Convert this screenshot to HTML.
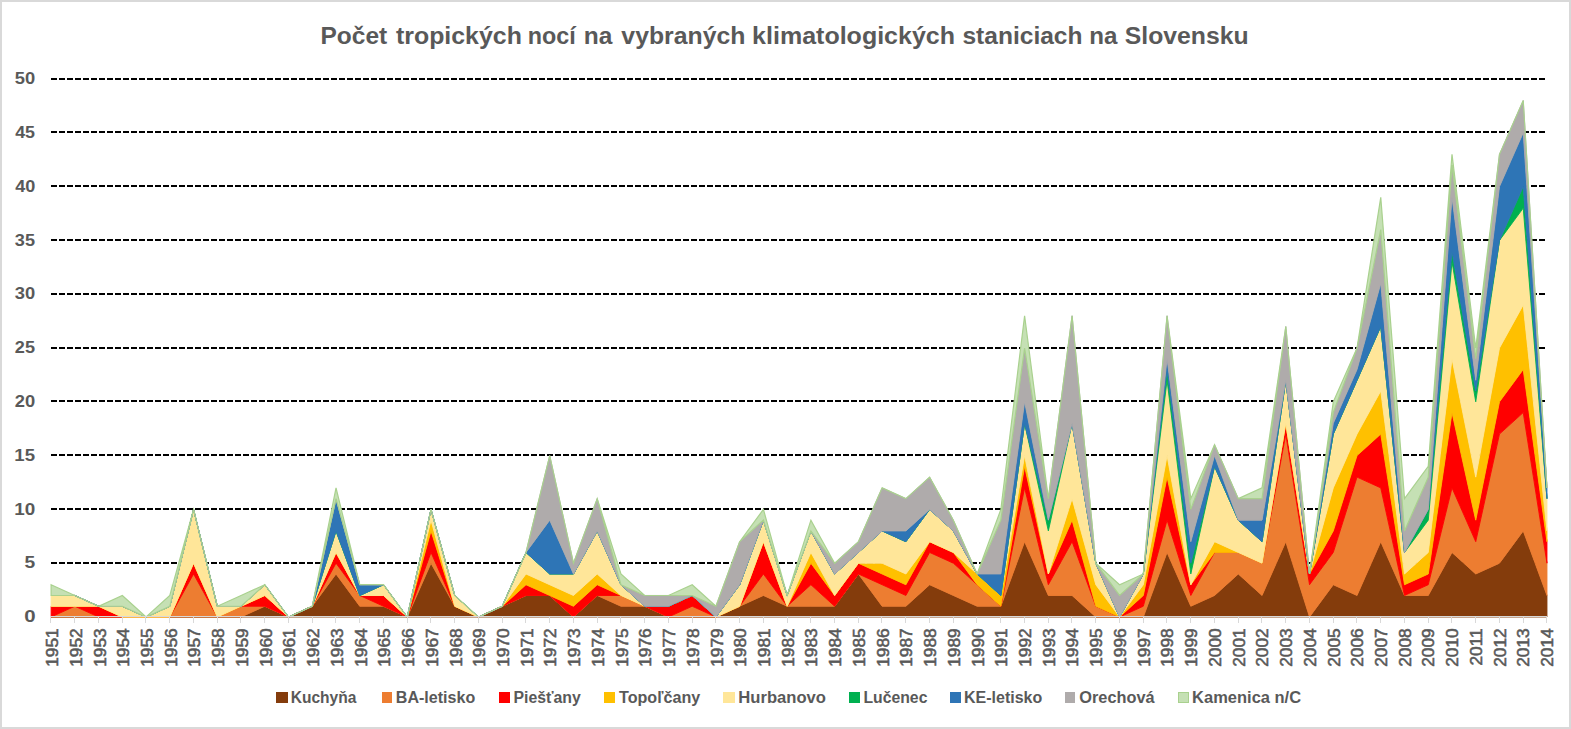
<!DOCTYPE html>
<html lang="sk"><head><meta charset="utf-8"><title>Počet tropických nocí</title>
<style>
html,body{margin:0;padding:0;background:#fff;}
body{width:1571px;height:729px;overflow:hidden;}
svg{display:block;}
text{font-family:"Liberation Sans",sans-serif;font-weight:bold;fill:#595959;}
.xl text{font-weight:normal;stroke:#595959;stroke-width:0.55px;}
</style></head><body>
<svg width="1571" height="729" viewBox="0 0 1571 729">
<rect x="0" y="0" width="1571" height="729" fill="#ffffff"/>
<rect x="1" y="1" width="1569" height="727" fill="none" stroke="#D9D9D9" stroke-width="2"/>

<g stroke="#000" stroke-width="2" stroke-dasharray="6 2" fill="none">
<line x1="51" y1="563" x2="1547" y2="563"/>
<line x1="51" y1="509" x2="1547" y2="509"/>
<line x1="51" y1="455" x2="1547" y2="455"/>
<line x1="51" y1="401" x2="1547" y2="401"/>
<line x1="51" y1="348" x2="1547" y2="348"/>
<line x1="51" y1="294" x2="1547" y2="294"/>
<line x1="51" y1="240" x2="1547" y2="240"/>
<line x1="51" y1="186" x2="1547" y2="186"/>
<line x1="51" y1="132" x2="1547" y2="132"/>
<line x1="51" y1="79" x2="1547" y2="79"/>
</g>
<g stroke-linejoin="miter">
<polygon fill="#843C0C" stroke="#843C0C" stroke-width="0.9" points="51.10,617.00 74.84,617.00 98.59,617.00 122.33,617.00 146.08,617.00 169.82,617.00 193.56,617.00 217.31,617.00 241.05,617.00 264.80,606.24 288.54,617.00 312.28,606.24 336.03,573.96 359.77,606.24 383.52,606.24 407.26,617.00 431.00,563.20 454.75,606.24 478.49,617.00 502.24,606.24 525.98,595.48 549.72,595.48 573.47,617.00 597.21,595.48 620.96,606.24 644.70,606.24 668.44,617.00 692.19,617.00 715.93,617.00 739.68,606.24 763.42,595.48 787.16,606.24 810.91,606.24 834.65,606.24 858.40,573.96 882.14,606.24 905.88,606.24 929.63,584.72 953.37,595.48 977.12,606.24 1000.86,606.24 1024.60,541.68 1048.35,595.48 1072.09,595.48 1095.84,617.00 1119.58,617.00 1143.32,617.00 1167.07,552.44 1190.81,606.24 1214.56,595.48 1238.30,573.96 1262.04,595.48 1285.79,541.68 1309.53,617.00 1333.28,584.72 1357.02,595.48 1380.76,541.68 1404.51,595.48 1428.25,595.48 1452.00,552.44 1475.74,573.96 1499.48,563.20 1523.23,530.92 1546.97,595.48 1546.97,617.00 1523.23,617.00 1499.48,617.00 1475.74,617.00 1452.00,617.00 1428.25,617.00 1404.51,617.00 1380.76,617.00 1357.02,617.00 1333.28,617.00 1309.53,617.00 1285.79,617.00 1262.04,617.00 1238.30,617.00 1214.56,617.00 1190.81,617.00 1167.07,617.00 1143.32,617.00 1119.58,617.00 1095.84,617.00 1072.09,617.00 1048.35,617.00 1024.60,617.00 1000.86,617.00 977.12,617.00 953.37,617.00 929.63,617.00 905.88,617.00 882.14,617.00 858.40,617.00 834.65,617.00 810.91,617.00 787.16,617.00 763.42,617.00 739.68,617.00 715.93,617.00 692.19,617.00 668.44,617.00 644.70,617.00 620.96,617.00 597.21,617.00 573.47,617.00 549.72,617.00 525.98,617.00 502.24,617.00 478.49,617.00 454.75,617.00 431.00,617.00 407.26,617.00 383.52,617.00 359.77,617.00 336.03,617.00 312.28,617.00 288.54,617.00 264.80,617.00 241.05,617.00 217.31,617.00 193.56,617.00 169.82,617.00 146.08,617.00 122.33,617.00 98.59,617.00 74.84,617.00 51.10,617.00"/>
<polygon fill="#ED7D31" stroke="#ED7D31" stroke-width="0.9" points="51.10,617.00 74.84,606.24 98.59,617.00 122.33,617.00 146.08,617.00 169.82,617.00 193.56,573.96 217.31,617.00 241.05,606.24 264.80,606.24 288.54,617.00 312.28,606.24 336.03,563.20 359.77,595.48 383.52,606.24 407.26,617.00 431.00,552.44 454.75,606.24 478.49,617.00 502.24,606.24 525.98,595.48 549.72,595.48 573.47,617.00 597.21,595.48 620.96,595.48 644.70,606.24 668.44,617.00 692.19,606.24 715.93,617.00 739.68,606.24 763.42,573.96 787.16,606.24 810.91,584.72 834.65,606.24 858.40,573.96 882.14,584.72 905.88,595.48 929.63,552.44 953.37,563.20 977.12,584.72 1000.86,606.24 1024.60,487.88 1048.35,584.72 1072.09,541.68 1095.84,606.24 1119.58,617.00 1143.32,606.24 1167.07,520.16 1190.81,595.48 1214.56,552.44 1238.30,552.44 1262.04,563.20 1285.79,434.08 1309.53,584.72 1333.28,552.44 1357.02,477.12 1380.76,487.88 1404.51,595.48 1428.25,584.72 1452.00,487.88 1475.74,541.68 1499.48,434.08 1523.23,412.56 1546.97,563.20 1546.97,595.48 1523.23,530.92 1499.48,563.20 1475.74,573.96 1452.00,552.44 1428.25,595.48 1404.51,595.48 1380.76,541.68 1357.02,595.48 1333.28,584.72 1309.53,617.00 1285.79,541.68 1262.04,595.48 1238.30,573.96 1214.56,595.48 1190.81,606.24 1167.07,552.44 1143.32,617.00 1119.58,617.00 1095.84,617.00 1072.09,595.48 1048.35,595.48 1024.60,541.68 1000.86,606.24 977.12,606.24 953.37,595.48 929.63,584.72 905.88,606.24 882.14,606.24 858.40,573.96 834.65,606.24 810.91,606.24 787.16,606.24 763.42,595.48 739.68,606.24 715.93,617.00 692.19,617.00 668.44,617.00 644.70,606.24 620.96,606.24 597.21,595.48 573.47,617.00 549.72,595.48 525.98,595.48 502.24,606.24 478.49,617.00 454.75,606.24 431.00,563.20 407.26,617.00 383.52,606.24 359.77,606.24 336.03,573.96 312.28,606.24 288.54,617.00 264.80,606.24 241.05,617.00 217.31,617.00 193.56,617.00 169.82,617.00 146.08,617.00 122.33,617.00 98.59,617.00 74.84,617.00 51.10,617.00"/>
<polygon fill="#FF0000" stroke="#FF0000" stroke-width="0.9" points="51.10,606.24 74.84,606.24 98.59,606.24 122.33,617.00 146.08,617.00 169.82,617.00 193.56,563.20 217.31,617.00 241.05,606.24 264.80,595.48 288.54,617.00 312.28,606.24 336.03,552.44 359.77,595.48 383.52,595.48 407.26,617.00 431.00,530.92 454.75,606.24 478.49,617.00 502.24,606.24 525.98,584.72 549.72,595.48 573.47,606.24 597.21,584.72 620.96,595.48 644.70,606.24 668.44,606.24 692.19,595.48 715.93,617.00 739.68,606.24 763.42,541.68 787.16,606.24 810.91,563.20 834.65,595.48 858.40,563.20 882.14,573.96 905.88,584.72 929.63,541.68 953.37,552.44 977.12,584.72 1000.86,606.24 1024.60,466.36 1048.35,573.96 1072.09,520.16 1095.84,606.24 1119.58,617.00 1143.32,595.48 1167.07,477.12 1190.81,584.72 1214.56,552.44 1238.30,552.44 1262.04,563.20 1285.79,423.32 1309.53,573.96 1333.28,530.92 1357.02,455.60 1380.76,434.08 1404.51,584.72 1428.25,573.96 1452.00,412.56 1475.74,520.16 1499.48,401.80 1523.23,369.52 1546.97,541.68 1546.97,563.20 1523.23,412.56 1499.48,434.08 1475.74,541.68 1452.00,487.88 1428.25,584.72 1404.51,595.48 1380.76,487.88 1357.02,477.12 1333.28,552.44 1309.53,584.72 1285.79,434.08 1262.04,563.20 1238.30,552.44 1214.56,552.44 1190.81,595.48 1167.07,520.16 1143.32,606.24 1119.58,617.00 1095.84,606.24 1072.09,541.68 1048.35,584.72 1024.60,487.88 1000.86,606.24 977.12,584.72 953.37,563.20 929.63,552.44 905.88,595.48 882.14,584.72 858.40,573.96 834.65,606.24 810.91,584.72 787.16,606.24 763.42,573.96 739.68,606.24 715.93,617.00 692.19,606.24 668.44,617.00 644.70,606.24 620.96,595.48 597.21,595.48 573.47,617.00 549.72,595.48 525.98,595.48 502.24,606.24 478.49,617.00 454.75,606.24 431.00,552.44 407.26,617.00 383.52,606.24 359.77,595.48 336.03,563.20 312.28,606.24 288.54,617.00 264.80,606.24 241.05,606.24 217.31,617.00 193.56,573.96 169.82,617.00 146.08,617.00 122.33,617.00 98.59,617.00 74.84,606.24 51.10,617.00"/>
<polygon fill="#FFC000" stroke="#FFC000" stroke-width="0.9" points="51.10,606.24 74.84,606.24 98.59,606.24 122.33,617.00 146.08,617.00 169.82,617.00 193.56,563.20 217.31,617.00 241.05,606.24 264.80,595.48 288.54,617.00 312.28,606.24 336.03,552.44 359.77,595.48 383.52,595.48 407.26,617.00 431.00,520.16 454.75,606.24 478.49,617.00 502.24,606.24 525.98,573.96 549.72,584.72 573.47,595.48 597.21,573.96 620.96,595.48 644.70,606.24 668.44,606.24 692.19,595.48 715.93,617.00 739.68,606.24 763.42,541.68 787.16,606.24 810.91,552.44 834.65,595.48 858.40,563.20 882.14,563.20 905.88,573.96 929.63,541.68 953.37,552.44 977.12,573.96 1000.86,595.48 1024.60,455.60 1048.35,573.96 1072.09,498.64 1095.84,584.72 1119.58,617.00 1143.32,584.72 1167.07,455.60 1190.81,584.72 1214.56,541.68 1238.30,552.44 1262.04,563.20 1285.79,423.32 1309.53,573.96 1333.28,487.88 1357.02,434.08 1380.76,391.04 1404.51,573.96 1428.25,552.44 1452.00,358.76 1475.74,477.12 1499.48,348.00 1523.23,304.96 1546.97,530.92 1546.97,541.68 1523.23,369.52 1499.48,401.80 1475.74,520.16 1452.00,412.56 1428.25,573.96 1404.51,584.72 1380.76,434.08 1357.02,455.60 1333.28,530.92 1309.53,573.96 1285.79,423.32 1262.04,563.20 1238.30,552.44 1214.56,552.44 1190.81,584.72 1167.07,477.12 1143.32,595.48 1119.58,617.00 1095.84,606.24 1072.09,520.16 1048.35,573.96 1024.60,466.36 1000.86,606.24 977.12,584.72 953.37,552.44 929.63,541.68 905.88,584.72 882.14,573.96 858.40,563.20 834.65,595.48 810.91,563.20 787.16,606.24 763.42,541.68 739.68,606.24 715.93,617.00 692.19,595.48 668.44,606.24 644.70,606.24 620.96,595.48 597.21,584.72 573.47,606.24 549.72,595.48 525.98,584.72 502.24,606.24 478.49,617.00 454.75,606.24 431.00,530.92 407.26,617.00 383.52,595.48 359.77,595.48 336.03,552.44 312.28,606.24 288.54,617.00 264.80,595.48 241.05,606.24 217.31,617.00 193.56,563.20 169.82,617.00 146.08,617.00 122.33,617.00 98.59,606.24 74.84,606.24 51.10,606.24"/>
<polygon fill="#FFE699" stroke="#FFE699" stroke-width="0.9" points="51.10,595.48 74.84,595.48 98.59,606.24 122.33,606.24 146.08,617.00 169.82,606.24 193.56,509.40 217.31,606.24 241.05,606.24 264.80,584.72 288.54,617.00 312.28,606.24 336.03,530.92 359.77,595.48 383.52,584.72 407.26,617.00 431.00,509.40 454.75,595.48 478.49,617.00 502.24,606.24 525.98,552.44 549.72,573.96 573.47,573.96 597.21,530.92 620.96,584.72 644.70,606.24 668.44,606.24 692.19,595.48 715.93,617.00 739.68,584.72 763.42,520.16 787.16,595.48 810.91,530.92 834.65,573.96 858.40,552.44 882.14,530.92 905.88,541.68 929.63,509.40 953.37,530.92 977.12,573.96 1000.86,595.48 1024.60,423.32 1048.35,530.92 1072.09,423.32 1095.84,563.20 1119.58,617.00 1143.32,573.96 1167.07,380.28 1190.81,573.96 1214.56,466.36 1238.30,520.16 1262.04,541.68 1285.79,380.28 1309.53,573.96 1333.28,434.08 1357.02,380.28 1380.76,326.48 1404.51,552.44 1428.25,520.16 1452.00,261.92 1475.74,401.80 1499.48,240.40 1523.23,208.12 1546.97,498.64 1546.97,530.92 1523.23,304.96 1499.48,348.00 1475.74,477.12 1452.00,358.76 1428.25,552.44 1404.51,573.96 1380.76,391.04 1357.02,434.08 1333.28,487.88 1309.53,573.96 1285.79,423.32 1262.04,563.20 1238.30,552.44 1214.56,541.68 1190.81,584.72 1167.07,455.60 1143.32,584.72 1119.58,617.00 1095.84,584.72 1072.09,498.64 1048.35,573.96 1024.60,455.60 1000.86,595.48 977.12,573.96 953.37,552.44 929.63,541.68 905.88,573.96 882.14,563.20 858.40,563.20 834.65,595.48 810.91,552.44 787.16,606.24 763.42,541.68 739.68,606.24 715.93,617.00 692.19,595.48 668.44,606.24 644.70,606.24 620.96,595.48 597.21,573.96 573.47,595.48 549.72,584.72 525.98,573.96 502.24,606.24 478.49,617.00 454.75,606.24 431.00,520.16 407.26,617.00 383.52,595.48 359.77,595.48 336.03,552.44 312.28,606.24 288.54,617.00 264.80,595.48 241.05,606.24 217.31,617.00 193.56,563.20 169.82,617.00 146.08,617.00 122.33,617.00 98.59,606.24 74.84,606.24 51.10,606.24"/>
<polygon fill="#00B050" stroke="#00B050" stroke-width="0.9" points="51.10,595.48 74.84,595.48 98.59,606.24 122.33,606.24 146.08,617.00 169.82,606.24 193.56,509.40 217.31,606.24 241.05,606.24 264.80,584.72 288.54,617.00 312.28,606.24 336.03,530.92 359.77,595.48 383.52,584.72 407.26,617.00 431.00,509.40 454.75,595.48 478.49,617.00 502.24,606.24 525.98,552.44 549.72,573.96 573.47,573.96 597.21,530.92 620.96,584.72 644.70,606.24 668.44,606.24 692.19,595.48 715.93,617.00 739.68,584.72 763.42,520.16 787.16,595.48 810.91,530.92 834.65,573.96 858.40,552.44 882.14,530.92 905.88,541.68 929.63,509.40 953.37,530.92 977.12,573.96 1000.86,595.48 1024.60,423.32 1048.35,520.16 1072.09,423.32 1095.84,563.20 1119.58,617.00 1143.32,573.96 1167.07,369.52 1190.81,563.20 1214.56,466.36 1238.30,520.16 1262.04,541.68 1285.79,380.28 1309.53,573.96 1333.28,434.08 1357.02,380.28 1380.76,326.48 1404.51,552.44 1428.25,509.40 1452.00,251.16 1475.74,391.04 1499.48,240.40 1523.23,186.60 1546.97,498.64 1546.97,498.64 1523.23,208.12 1499.48,240.40 1475.74,401.80 1452.00,261.92 1428.25,520.16 1404.51,552.44 1380.76,326.48 1357.02,380.28 1333.28,434.08 1309.53,573.96 1285.79,380.28 1262.04,541.68 1238.30,520.16 1214.56,466.36 1190.81,573.96 1167.07,380.28 1143.32,573.96 1119.58,617.00 1095.84,563.20 1072.09,423.32 1048.35,530.92 1024.60,423.32 1000.86,595.48 977.12,573.96 953.37,530.92 929.63,509.40 905.88,541.68 882.14,530.92 858.40,552.44 834.65,573.96 810.91,530.92 787.16,595.48 763.42,520.16 739.68,584.72 715.93,617.00 692.19,595.48 668.44,606.24 644.70,606.24 620.96,584.72 597.21,530.92 573.47,573.96 549.72,573.96 525.98,552.44 502.24,606.24 478.49,617.00 454.75,595.48 431.00,509.40 407.26,617.00 383.52,584.72 359.77,595.48 336.03,530.92 312.28,606.24 288.54,617.00 264.80,584.72 241.05,606.24 217.31,606.24 193.56,509.40 169.82,606.24 146.08,617.00 122.33,606.24 98.59,606.24 74.84,595.48 51.10,595.48"/>
<polygon fill="#2E75B6" stroke="#2E75B6" stroke-width="0.9" points="51.10,595.48 74.84,595.48 98.59,606.24 122.33,606.24 146.08,617.00 169.82,606.24 193.56,509.40 217.31,606.24 241.05,606.24 264.80,584.72 288.54,617.00 312.28,606.24 336.03,498.64 359.77,584.72 383.52,584.72 407.26,617.00 431.00,509.40 454.75,595.48 478.49,617.00 502.24,606.24 525.98,552.44 549.72,520.16 573.47,573.96 597.21,530.92 620.96,584.72 644.70,606.24 668.44,606.24 692.19,595.48 715.93,617.00 739.68,584.72 763.42,520.16 787.16,595.48 810.91,530.92 834.65,573.96 858.40,552.44 882.14,530.92 905.88,530.92 929.63,509.40 953.37,530.92 977.12,573.96 1000.86,573.96 1024.60,401.80 1048.35,520.16 1072.09,423.32 1095.84,563.20 1119.58,617.00 1143.32,573.96 1167.07,358.76 1190.81,541.68 1214.56,455.60 1238.30,520.16 1262.04,520.16 1285.79,380.28 1309.53,573.96 1333.28,423.32 1357.02,369.52 1380.76,283.44 1404.51,552.44 1428.25,509.40 1452.00,197.36 1475.74,380.28 1499.48,186.60 1523.23,132.80 1546.97,487.88 1546.97,498.64 1523.23,186.60 1499.48,240.40 1475.74,391.04 1452.00,251.16 1428.25,509.40 1404.51,552.44 1380.76,326.48 1357.02,380.28 1333.28,434.08 1309.53,573.96 1285.79,380.28 1262.04,541.68 1238.30,520.16 1214.56,466.36 1190.81,563.20 1167.07,369.52 1143.32,573.96 1119.58,617.00 1095.84,563.20 1072.09,423.32 1048.35,520.16 1024.60,423.32 1000.86,595.48 977.12,573.96 953.37,530.92 929.63,509.40 905.88,541.68 882.14,530.92 858.40,552.44 834.65,573.96 810.91,530.92 787.16,595.48 763.42,520.16 739.68,584.72 715.93,617.00 692.19,595.48 668.44,606.24 644.70,606.24 620.96,584.72 597.21,530.92 573.47,573.96 549.72,573.96 525.98,552.44 502.24,606.24 478.49,617.00 454.75,595.48 431.00,509.40 407.26,617.00 383.52,584.72 359.77,595.48 336.03,530.92 312.28,606.24 288.54,617.00 264.80,584.72 241.05,606.24 217.31,606.24 193.56,509.40 169.82,606.24 146.08,617.00 122.33,606.24 98.59,606.24 74.84,595.48 51.10,595.48"/>
<polygon fill="#AFABAB" stroke="#AFABAB" stroke-width="0.9" points="51.10,595.48 74.84,595.48 98.59,606.24 122.33,606.24 146.08,617.00 169.82,606.24 193.56,509.40 217.31,606.24 241.05,606.24 264.80,584.72 288.54,617.00 312.28,606.24 336.03,498.64 359.77,584.72 383.52,584.72 407.26,617.00 431.00,509.40 454.75,595.48 478.49,617.00 502.24,606.24 525.98,552.44 549.72,455.60 573.47,563.20 597.21,498.64 620.96,584.72 644.70,595.48 668.44,595.48 692.19,595.48 715.93,606.24 739.68,541.68 763.42,520.16 787.16,595.48 810.91,530.92 834.65,563.20 858.40,541.68 882.14,487.88 905.88,498.64 929.63,477.12 953.37,520.16 977.12,573.96 1000.86,520.16 1024.60,348.00 1048.35,498.64 1072.09,315.72 1095.84,563.20 1119.58,595.48 1143.32,573.96 1167.07,315.72 1190.81,509.40 1214.56,444.84 1238.30,498.64 1262.04,498.64 1285.79,326.48 1309.53,573.96 1333.28,412.56 1357.02,348.00 1380.76,229.64 1404.51,530.92 1428.25,477.12 1452.00,165.08 1475.74,358.76 1499.48,154.32 1523.23,100.52 1546.97,487.88 1546.97,487.88 1523.23,132.80 1499.48,186.60 1475.74,380.28 1452.00,197.36 1428.25,509.40 1404.51,552.44 1380.76,283.44 1357.02,369.52 1333.28,423.32 1309.53,573.96 1285.79,380.28 1262.04,520.16 1238.30,520.16 1214.56,455.60 1190.81,541.68 1167.07,358.76 1143.32,573.96 1119.58,617.00 1095.84,563.20 1072.09,423.32 1048.35,520.16 1024.60,401.80 1000.86,573.96 977.12,573.96 953.37,530.92 929.63,509.40 905.88,530.92 882.14,530.92 858.40,552.44 834.65,573.96 810.91,530.92 787.16,595.48 763.42,520.16 739.68,584.72 715.93,617.00 692.19,595.48 668.44,606.24 644.70,606.24 620.96,584.72 597.21,530.92 573.47,573.96 549.72,520.16 525.98,552.44 502.24,606.24 478.49,617.00 454.75,595.48 431.00,509.40 407.26,617.00 383.52,584.72 359.77,584.72 336.03,498.64 312.28,606.24 288.54,617.00 264.80,584.72 241.05,606.24 217.31,606.24 193.56,509.40 169.82,606.24 146.08,617.00 122.33,606.24 98.59,606.24 74.84,595.48 51.10,595.48"/>
<polygon fill="#C5E0B4" stroke="#A9D18E" stroke-width="1.2" points="51.10,584.72 74.84,595.48 98.59,606.24 122.33,595.48 146.08,617.00 169.82,595.48 193.56,509.40 217.31,606.24 241.05,595.48 264.80,584.72 288.54,617.00 312.28,606.24 336.03,487.88 359.77,584.72 383.52,584.72 407.26,617.00 431.00,509.40 454.75,595.48 478.49,617.00 502.24,606.24 525.98,552.44 549.72,455.60 573.47,563.20 597.21,498.64 620.96,573.96 644.70,595.48 668.44,595.48 692.19,584.72 715.93,606.24 739.68,541.68 763.42,509.40 787.16,595.48 810.91,520.16 834.65,563.20 858.40,541.68 882.14,487.88 905.88,498.64 929.63,477.12 953.37,520.16 977.12,573.96 1000.86,509.40 1024.60,315.72 1048.35,498.64 1072.09,315.72 1095.84,563.20 1119.58,584.72 1143.32,573.96 1167.07,315.72 1190.81,498.64 1214.56,444.84 1238.30,498.64 1262.04,487.88 1285.79,326.48 1309.53,573.96 1333.28,401.80 1357.02,348.00 1380.76,197.36 1404.51,498.64 1428.25,466.36 1452.00,154.32 1475.74,348.00 1499.48,154.32 1523.23,100.52 1546.97,487.88 1546.97,487.88 1523.23,100.52 1499.48,154.32 1475.74,358.76 1452.00,165.08 1428.25,477.12 1404.51,530.92 1380.76,229.64 1357.02,348.00 1333.28,412.56 1309.53,573.96 1285.79,326.48 1262.04,498.64 1238.30,498.64 1214.56,444.84 1190.81,509.40 1167.07,315.72 1143.32,573.96 1119.58,595.48 1095.84,563.20 1072.09,315.72 1048.35,498.64 1024.60,348.00 1000.86,520.16 977.12,573.96 953.37,520.16 929.63,477.12 905.88,498.64 882.14,487.88 858.40,541.68 834.65,563.20 810.91,530.92 787.16,595.48 763.42,520.16 739.68,541.68 715.93,606.24 692.19,595.48 668.44,595.48 644.70,595.48 620.96,584.72 597.21,498.64 573.47,563.20 549.72,455.60 525.98,552.44 502.24,606.24 478.49,617.00 454.75,595.48 431.00,509.40 407.26,617.00 383.52,584.72 359.77,584.72 336.03,498.64 312.28,606.24 288.54,617.00 264.80,584.72 241.05,606.24 217.31,606.24 193.56,509.40 169.82,606.24 146.08,617.00 122.33,606.24 98.59,606.24 74.84,595.48 51.10,595.48"/>
</g>
<g stroke="#D9D9D9" stroke-width="1" fill="none">
<line x1="50" y1="616.5" x2="1547" y2="616.5"/>
<line x1="50.5" y1="616" x2="50.5" y2="623"/>
<line x1="74.5" y1="616" x2="74.5" y2="623"/>
<line x1="98.5" y1="616" x2="98.5" y2="623"/>
<line x1="122.5" y1="616" x2="122.5" y2="623"/>
<line x1="145.5" y1="616" x2="145.5" y2="623"/>
<line x1="169.5" y1="616" x2="169.5" y2="623"/>
<line x1="193.5" y1="616" x2="193.5" y2="623"/>
<line x1="217.5" y1="616" x2="217.5" y2="623"/>
<line x1="240.5" y1="616" x2="240.5" y2="623"/>
<line x1="264.5" y1="616" x2="264.5" y2="623"/>
<line x1="288.5" y1="616" x2="288.5" y2="623"/>
<line x1="312.5" y1="616" x2="312.5" y2="623"/>
<line x1="335.5" y1="616" x2="335.5" y2="623"/>
<line x1="359.5" y1="616" x2="359.5" y2="623"/>
<line x1="383.5" y1="616" x2="383.5" y2="623"/>
<line x1="407.5" y1="616" x2="407.5" y2="623"/>
<line x1="430.5" y1="616" x2="430.5" y2="623"/>
<line x1="454.5" y1="616" x2="454.5" y2="623"/>
<line x1="478.5" y1="616" x2="478.5" y2="623"/>
<line x1="502.5" y1="616" x2="502.5" y2="623"/>
<line x1="525.5" y1="616" x2="525.5" y2="623"/>
<line x1="549.5" y1="616" x2="549.5" y2="623"/>
<line x1="573.5" y1="616" x2="573.5" y2="623"/>
<line x1="597.5" y1="616" x2="597.5" y2="623"/>
<line x1="620.5" y1="616" x2="620.5" y2="623"/>
<line x1="644.5" y1="616" x2="644.5" y2="623"/>
<line x1="668.5" y1="616" x2="668.5" y2="623"/>
<line x1="692.5" y1="616" x2="692.5" y2="623"/>
<line x1="715.5" y1="616" x2="715.5" y2="623"/>
<line x1="739.5" y1="616" x2="739.5" y2="623"/>
<line x1="763.5" y1="616" x2="763.5" y2="623"/>
<line x1="787.5" y1="616" x2="787.5" y2="623"/>
<line x1="810.5" y1="616" x2="810.5" y2="623"/>
<line x1="834.5" y1="616" x2="834.5" y2="623"/>
<line x1="858.5" y1="616" x2="858.5" y2="623"/>
<line x1="881.5" y1="616" x2="881.5" y2="623"/>
<line x1="905.5" y1="616" x2="905.5" y2="623"/>
<line x1="929.5" y1="616" x2="929.5" y2="623"/>
<line x1="953.5" y1="616" x2="953.5" y2="623"/>
<line x1="976.5" y1="616" x2="976.5" y2="623"/>
<line x1="1000.5" y1="616" x2="1000.5" y2="623"/>
<line x1="1024.5" y1="616" x2="1024.5" y2="623"/>
<line x1="1048.5" y1="616" x2="1048.5" y2="623"/>
<line x1="1071.5" y1="616" x2="1071.5" y2="623"/>
<line x1="1095.5" y1="616" x2="1095.5" y2="623"/>
<line x1="1119.5" y1="616" x2="1119.5" y2="623"/>
<line x1="1143.5" y1="616" x2="1143.5" y2="623"/>
<line x1="1166.5" y1="616" x2="1166.5" y2="623"/>
<line x1="1190.5" y1="616" x2="1190.5" y2="623"/>
<line x1="1214.5" y1="616" x2="1214.5" y2="623"/>
<line x1="1238.5" y1="616" x2="1238.5" y2="623"/>
<line x1="1261.5" y1="616" x2="1261.5" y2="623"/>
<line x1="1285.5" y1="616" x2="1285.5" y2="623"/>
<line x1="1309.5" y1="616" x2="1309.5" y2="623"/>
<line x1="1333.5" y1="616" x2="1333.5" y2="623"/>
<line x1="1356.5" y1="616" x2="1356.5" y2="623"/>
<line x1="1380.5" y1="616" x2="1380.5" y2="623"/>
<line x1="1404.5" y1="616" x2="1404.5" y2="623"/>
<line x1="1428.5" y1="616" x2="1428.5" y2="623"/>
<line x1="1451.5" y1="616" x2="1451.5" y2="623"/>
<line x1="1475.5" y1="616" x2="1475.5" y2="623"/>
<line x1="1499.5" y1="616" x2="1499.5" y2="623"/>
<line x1="1523.5" y1="616" x2="1523.5" y2="623"/>
<line x1="1546.5" y1="616" x2="1546.5" y2="623"/>
</g>
<g>
<text font-size="17.2" transform="translate(24.21,622.10) scale(1.1875,1)">0</text>
<text font-size="17.2" transform="translate(24.54,568.30) scale(1.1176,1)">5</text>
<text font-size="17.2" transform="translate(14.30,514.50) scale(1.0971,1)">10</text>
<text font-size="17.2" transform="translate(14.32,460.70) scale(1.0817,1)">15</text>
<text font-size="17.2" transform="translate(14.87,406.90) scale(1.0667,1)">20</text>
<text font-size="17.2" transform="translate(14.87,353.10) scale(1.0521,1)">25</text>
<text font-size="17.2" transform="translate(14.87,299.30) scale(1.0667,1)">30</text>
<text font-size="17.2" transform="translate(14.87,245.50) scale(1.0521,1)">35</text>
<text font-size="17.2" transform="translate(15.14,191.70) scale(1.0521,1)">40</text>
<text font-size="17.2" transform="translate(15.14,137.90) scale(1.0378,1)">45</text>
<text font-size="17.2" transform="translate(14.87,84.10) scale(1.0667,1)">50</text>
</g>
<g class="xl" font-size="16.1" text-anchor="end">
<text transform="translate(58.10,628.4) rotate(-90) scale(1.074,1)">1951</text>
<text transform="translate(81.83,628.4) rotate(-90) scale(1.074,1)">1952</text>
<text transform="translate(105.56,628.4) rotate(-90) scale(1.074,1)">1953</text>
<text transform="translate(129.29,628.4) rotate(-90) scale(1.074,1)">1954</text>
<text transform="translate(153.02,628.4) rotate(-90) scale(1.074,1)">1955</text>
<text transform="translate(176.75,628.4) rotate(-90) scale(1.074,1)">1956</text>
<text transform="translate(200.48,628.4) rotate(-90) scale(1.074,1)">1957</text>
<text transform="translate(224.21,628.4) rotate(-90) scale(1.074,1)">1958</text>
<text transform="translate(247.94,628.4) rotate(-90) scale(1.074,1)">1959</text>
<text transform="translate(271.67,628.4) rotate(-90) scale(1.074,1)">1960</text>
<text transform="translate(295.40,628.4) rotate(-90) scale(1.074,1)">1961</text>
<text transform="translate(319.13,628.4) rotate(-90) scale(1.074,1)">1962</text>
<text transform="translate(342.86,628.4) rotate(-90) scale(1.074,1)">1963</text>
<text transform="translate(366.59,628.4) rotate(-90) scale(1.074,1)">1964</text>
<text transform="translate(390.32,628.4) rotate(-90) scale(1.074,1)">1965</text>
<text transform="translate(414.05,628.4) rotate(-90) scale(1.074,1)">1966</text>
<text transform="translate(437.78,628.4) rotate(-90) scale(1.074,1)">1967</text>
<text transform="translate(461.51,628.4) rotate(-90) scale(1.074,1)">1968</text>
<text transform="translate(485.24,628.4) rotate(-90) scale(1.074,1)">1969</text>
<text transform="translate(508.97,628.4) rotate(-90) scale(1.074,1)">1970</text>
<text transform="translate(532.70,628.4) rotate(-90) scale(1.074,1)">1971</text>
<text transform="translate(556.43,628.4) rotate(-90) scale(1.074,1)">1972</text>
<text transform="translate(580.16,628.4) rotate(-90) scale(1.074,1)">1973</text>
<text transform="translate(603.89,628.4) rotate(-90) scale(1.074,1)">1974</text>
<text transform="translate(627.62,628.4) rotate(-90) scale(1.074,1)">1975</text>
<text transform="translate(651.35,628.4) rotate(-90) scale(1.074,1)">1976</text>
<text transform="translate(675.08,628.4) rotate(-90) scale(1.074,1)">1977</text>
<text transform="translate(698.81,628.4) rotate(-90) scale(1.074,1)">1978</text>
<text transform="translate(722.54,628.4) rotate(-90) scale(1.074,1)">1979</text>
<text transform="translate(746.27,628.4) rotate(-90) scale(1.074,1)">1980</text>
<text transform="translate(770.00,628.4) rotate(-90) scale(1.074,1)">1981</text>
<text transform="translate(793.73,628.4) rotate(-90) scale(1.074,1)">1982</text>
<text transform="translate(817.46,628.4) rotate(-90) scale(1.074,1)">1983</text>
<text transform="translate(841.19,628.4) rotate(-90) scale(1.074,1)">1984</text>
<text transform="translate(864.92,628.4) rotate(-90) scale(1.074,1)">1985</text>
<text transform="translate(888.65,628.4) rotate(-90) scale(1.074,1)">1986</text>
<text transform="translate(912.38,628.4) rotate(-90) scale(1.074,1)">1987</text>
<text transform="translate(936.11,628.4) rotate(-90) scale(1.074,1)">1988</text>
<text transform="translate(959.84,628.4) rotate(-90) scale(1.074,1)">1989</text>
<text transform="translate(983.57,628.4) rotate(-90) scale(1.074,1)">1990</text>
<text transform="translate(1007.30,628.4) rotate(-90) scale(1.074,1)">1991</text>
<text transform="translate(1031.03,628.4) rotate(-90) scale(1.074,1)">1992</text>
<text transform="translate(1054.76,628.4) rotate(-90) scale(1.074,1)">1993</text>
<text transform="translate(1078.49,628.4) rotate(-90) scale(1.074,1)">1994</text>
<text transform="translate(1102.22,628.4) rotate(-90) scale(1.074,1)">1995</text>
<text transform="translate(1125.95,628.4) rotate(-90) scale(1.074,1)">1996</text>
<text transform="translate(1149.68,628.4) rotate(-90) scale(1.074,1)">1997</text>
<text transform="translate(1173.41,628.4) rotate(-90) scale(1.074,1)">1998</text>
<text transform="translate(1197.14,628.4) rotate(-90) scale(1.074,1)">1999</text>
<text transform="translate(1220.87,628.4) rotate(-90) scale(1.074,1)">2000</text>
<text transform="translate(1244.60,628.4) rotate(-90) scale(1.074,1)">2001</text>
<text transform="translate(1268.33,628.4) rotate(-90) scale(1.074,1)">2002</text>
<text transform="translate(1292.06,628.4) rotate(-90) scale(1.074,1)">2003</text>
<text transform="translate(1315.79,628.4) rotate(-90) scale(1.074,1)">2004</text>
<text transform="translate(1339.52,628.4) rotate(-90) scale(1.074,1)">2005</text>
<text transform="translate(1363.25,628.4) rotate(-90) scale(1.074,1)">2006</text>
<text transform="translate(1386.98,628.4) rotate(-90) scale(1.074,1)">2007</text>
<text transform="translate(1410.71,628.4) rotate(-90) scale(1.074,1)">2008</text>
<text transform="translate(1434.44,628.4) rotate(-90) scale(1.074,1)">2009</text>
<text transform="translate(1458.17,628.4) rotate(-90) scale(1.074,1)">2010</text>
<text transform="translate(1481.90,628.4) rotate(-90) scale(1.074,1)">2011</text>
<text transform="translate(1505.63,628.4) rotate(-90) scale(1.074,1)">2012</text>
<text transform="translate(1529.36,628.4) rotate(-90) scale(1.074,1)">2013</text>
<text transform="translate(1553.09,628.4) rotate(-90) scale(1.074,1)">2014</text>
</g>
<g>
<text font-size="24.6" transform="translate(320.46,44.4) scale(0.9969,1)">Počet</text>
<text font-size="24.6" transform="translate(395.95,44.4) scale(1.0122,1)">tropických</text>
<text font-size="24.6" transform="translate(527.74,44.4) scale(0.9495,1)">nocí</text>
<text font-size="24.6" transform="translate(583.86,44.4) scale(0.9963,1)">na</text>
<text font-size="24.6" transform="translate(621.35,44.4) scale(1.0087,1)">vybraných</text>
<text font-size="24.6" transform="translate(752.12,44.4) scale(1.0171,1)">klimatologických</text>
<text font-size="24.6" transform="translate(962.40,44.4) scale(0.9987,1)">staniciach</text>
<text font-size="24.6" transform="translate(1089.18,44.4) scale(0.9815,1)">na</text>
<text font-size="24.6" transform="translate(1124.85,44.4) scale(1.0062,1)">Slovensku</text>
</g>
<g>
<rect x="276.5" y="692.5" width="11" height="10" fill="#843C0C" stroke="#843C0C" stroke-width="1"/>
<rect x="382.5" y="692.5" width="9" height="10" fill="#ED7D31" stroke="#ED7D31" stroke-width="1"/>
<rect x="499.5" y="692.5" width="10" height="10" fill="#FF0000" stroke="#FF0000" stroke-width="1"/>
<rect x="604.5" y="692.5" width="10" height="10" fill="#FFC000" stroke="#FFC000" stroke-width="1"/>
<rect x="723.5" y="692.5" width="11" height="10" fill="#FFE699" stroke="#FFE699" stroke-width="1"/>
<rect x="849.5" y="692.5" width="10" height="10" fill="#00B050" stroke="#00B050" stroke-width="1"/>
<rect x="950.5" y="692.5" width="10" height="10" fill="#2E75B6" stroke="#2E75B6" stroke-width="1"/>
<rect x="1065.5" y="692.5" width="9" height="10" fill="#AFABAB" stroke="#AFABAB" stroke-width="1"/>
<rect x="1178.5" y="692.5" width="10" height="10" fill="#C5E0B4" stroke="#A9D18E" stroke-width="1"/>
<text font-size="17.4" transform="translate(290.68,703) scale(0.8955,1)">Kuchyňa</text>
<text font-size="17.4" transform="translate(395.85,703) scale(0.9226,1)">BA-letisko</text>
<text font-size="17.4" transform="translate(513.46,703) scale(0.9090,1)">Piešťany</text>
<text font-size="17.4" transform="translate(618.97,703) scale(0.9287,1)">Topoľčany</text>
<text font-size="17.4" transform="translate(738.31,703) scale(0.9556,1)">Hurbanovo</text>
<text font-size="17.4" transform="translate(863.47,703) scale(0.9062,1)">Lučenec</text>
<text font-size="17.4" transform="translate(964.05,703) scale(0.9201,1)">KE-letisko</text>
<text font-size="17.4" transform="translate(1079.30,703) scale(0.9384,1)">Orechová</text>
<text font-size="17.4" transform="translate(1192.12,703) scale(0.9475,1)">Kamenica n/C</text>
</g>
</svg></body></html>
